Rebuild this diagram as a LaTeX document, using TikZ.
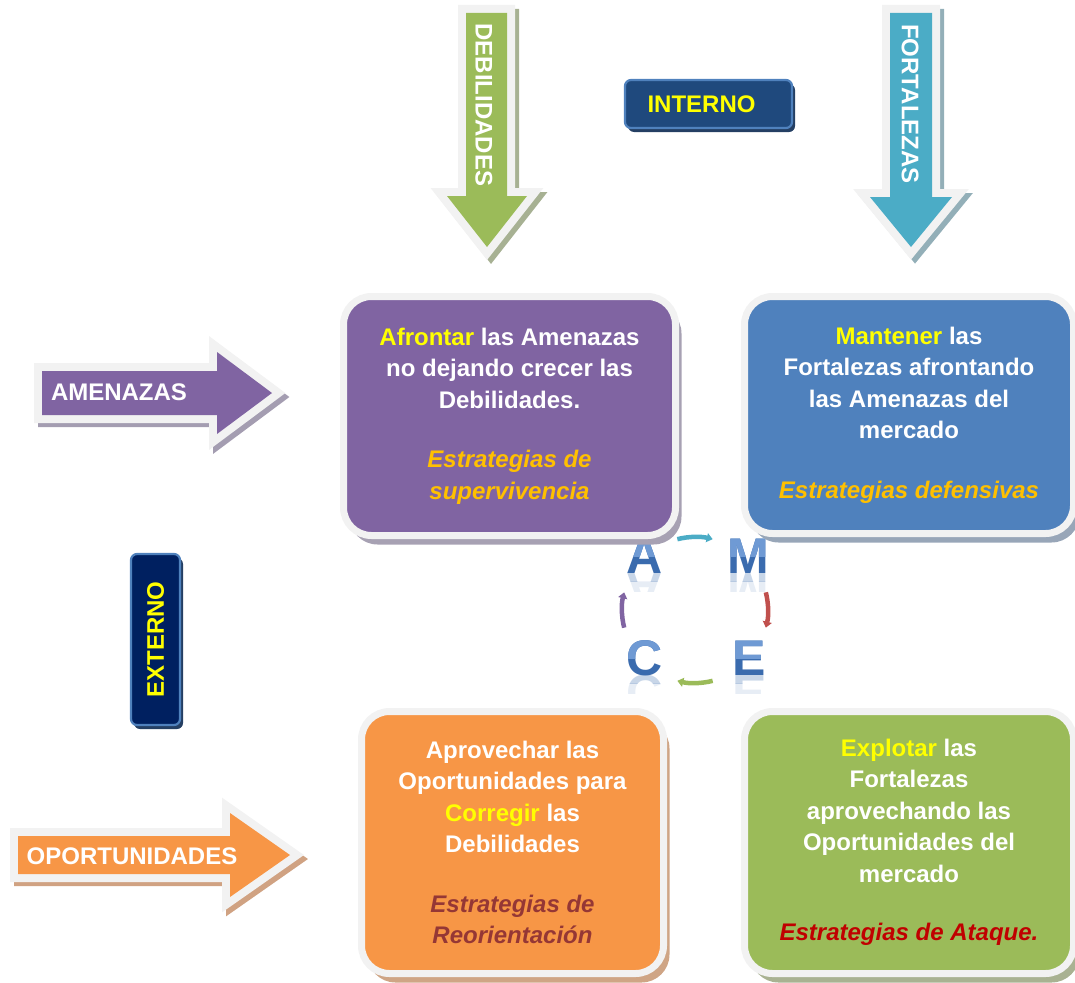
\documentclass[tikz,border=0pt]{standalone}
\usepackage{fontspec}
\setmainfont{Liberation Sans}
\usepackage{graphicx}
\usetikzlibrary{shadows,arrows.meta}

\definecolor{swPurple}{HTML}{8064A2}
\definecolor{swBlue}{HTML}{4F81BD}
\definecolor{swOrange}{HTML}{F79646}
\definecolor{swGreen}{HTML}{9BBB59}
\definecolor{swCyan}{HTML}{4BACC6}
\definecolor{swRed}{HTML}{C0504D}
\definecolor{navyA}{HTML}{1F497D}
\definecolor{navyB}{HTML}{002060}
\definecolor{tagShade}{HTML}{243F63}
\definecolor{rimGray}{HTML}{F2F2F2}
\definecolor{hiYellow}{HTML}{FFFF00}
\definecolor{gold}{HTML}{FFC000}
\definecolor{brick}{HTML}{953735}
\definecolor{crimson}{HTML}{C00000}
\definecolor{letterDark}{HTML}{3A6BAE}
\definecolor{letterLight}{HTML}{6F9AD4}
\definecolor{shPurple}{HTML}{A7A1B3}
\definecolor{shBlue}{HTML}{98A6B8}
\definecolor{shOrange}{HTML}{CFA585}
\definecolor{shGreen}{HTML}{A9B292}
\definecolor{shDeb}{HTML}{A7B193}
\definecolor{shFort}{HTML}{93AFB8}
\definecolor{shAmen}{HTML}{A49DB1}
\definecolor{shOpor}{HTML}{D0A282}

% band arrow: #1 outline, #2 body colour, #3 shadow colour
\newcommand\bandarrow[3]{%
  \path[fill=#3, draw=#3, line width=16pt, shift={(4,4)}] #1;
  \path[draw=rimGray, line width=16pt] #1;
  \path[fill=#2] #1;
}

\tikzset{
  bandtext/.style={text=white, font=\bfseries\fontsize{24}{28}\selectfont, inner sep=0pt},
  quad/.style={draw=rimGray, line width=7pt, rounded corners=28pt, align=center,
    text=white, font=\bfseries\fontsize{24}{31.5}\selectfont,
    drop shadow={shadow xshift=6pt, shadow yshift=-9pt, fill=#1, opacity=1}},
  tag/.style={draw=swBlue, line width=2.2pt, rounded corners=6pt, text=hiYellow,
    font=\bfseries\fontsize{24}{28}\selectfont, inner sep=0pt,
    drop shadow={shadow xshift=3pt, shadow yshift=-4pt, fill=tagShade, opacity=1}},
  letter/.style={font=\bfseries\fontsize{50}{50}\selectfont, inner sep=0pt},
  cyclearc/.style={line width=4.5pt, -{Triangle[length=6pt,width=9pt]}}
}

\begin{document}
\begin{tikzpicture}[x=1pt,y=-1pt]
\useasboundingbox (0,0) rectangle (1075,982);

% --- input arrows
\bandarrow{(466,13) -- (507,13) -- (507,196) -- (527,196) -- (487,247) -- (447,196) -- (466,196) -- cycle}{swGreen}{shDeb}
\bandarrow{(890,13) -- (932,13) -- (932,197) -- (952,197) -- (911,247) -- (870,197) -- (890,197) -- cycle}{swCyan}{shFort}
\bandarrow{(42,371) -- (217,371) -- (217,352) -- (272,393) -- (217,434) -- (217,415) -- (42,415) -- cycle}{swPurple}{shAmen}
\bandarrow{(18,836) -- (230,836) -- (230,813) -- (290,855) -- (230,897) -- (230,874) -- (18,874) -- cycle}{swOrange}{shOpor}

\node[bandtext, rotate=-90] (deb) at (484,105) {DEBILIDADES};
\node[bandtext, rotate=-90] (fort) at (910,104) {FORTALEZAS};
\node[bandtext] (amen) at (119,392) {AMENAZAS};
\node[bandtext] (opor) at (132,856) {OPORTUNIDADES};

% --- side tags
\node[tag, fill=navyA, minimum width=167, minimum height=48] (int) at (708.5,104) {INTERNO\kern14pt};
\node[tag, fill=navyB, rotate=90, minimum width=171, minimum height=49] (ext) at (155.5,639.5) {EXTERNO};

% --- AMCE letters with highlight and reflection
\foreach \ch/\px/\py in {A/645/573, M/748/573, C/645/675, E/749/675}{
  \node[letter, anchor=base, text=letterDark] (l\ch) at (\px,\py) {\ch};
  \begin{scope}
    \clip ([xshift=-40pt,yshift=17pt]l\ch.base) rectangle ++(80,-25);
    \node[letter, anchor=base, text=letterLight] at (l\ch.base) {\ch};
  \end{scope}
  \begin{scope}
    \clip ([xshift=-40pt]l\ch.base) rectangle ++(80,8);
    \node[letter, anchor=base, text=letterDark, opacity=.28] at (l\ch.base) {\scalebox{1}[-1]{\ch}};
  \end{scope}
  \begin{scope}
    \clip ([xshift=-40pt,yshift=-8pt]l\ch.base) rectangle ++(80,10);
    \node[letter, anchor=base, text=letterDark, opacity=.12] at (l\ch.base) {\scalebox{1}[-1]{\ch}};
  \end{scope}
}

% --- cycle arrows between the letters
\coordinate (cyc) at (695,610);
\draw[cyclearc, swCyan]   ([shift={(-104:73)}]cyc) arc[start angle=-104, end angle=-76, radius=73];
\draw[cyclearc, swRed]    ([shift={(-14:73)}]cyc)  arc[start angle=-14,  end angle=14,  radius=73];
\draw[cyclearc, swGreen]  ([shift={(76:73)}]cyc)   arc[start angle=76,   end angle=104, radius=73];
\draw[cyclearc, swPurple] ([shift={(166:73)}]cyc)  arc[start angle=166,  end angle=194, radius=73];

% --- strategy quadrants
\node[quad=shPurple, fill=swPurple, minimum width=332, minimum height=239] (wt) at (509.5,416)
  {{\color{hiYellow}Afrontar} las Amenazas\\ no dejando crecer las\\ Debilidades.\\[28pt]
   {\itshape\color{gold}Estrategias de}\\ {\itshape\color{gold}supervivencia}};
\node[quad=shBlue, fill=swBlue, minimum width=329, minimum height=237] (st) at (909,415)
  {{\color{hiYellow}Mantener} las\\ Fortalezas afrontando\\ las Amenazas del\\ mercado\\[28pt]
   {\itshape\color{gold}Estrategias defensivas}};
\node[quad=shOrange, fill=swOrange, minimum width=302, minimum height=262] (wo) at (512.5,842.5)
  {Aprovechar las\\ Oportunidades para\\ {\color{hiYellow}Corregir} las\\ Debilidades\\[28pt]
   {\itshape\color{brick}Estrategias de}\\ {\itshape\color{brick}Reorientación}};
\node[quad=shGreen, fill=swGreen, minimum width=329, minimum height=262] (so) at (909,842.5)
  {{\color{hiYellow}Explotar} las\\ Fortalezas\\ aprovechando las\\ Oportunidades del\\ mercado\\[27pt]
   {\itshape\color{crimson}Estrategias de Ataque.}};
\end{tikzpicture}
\end{document}
